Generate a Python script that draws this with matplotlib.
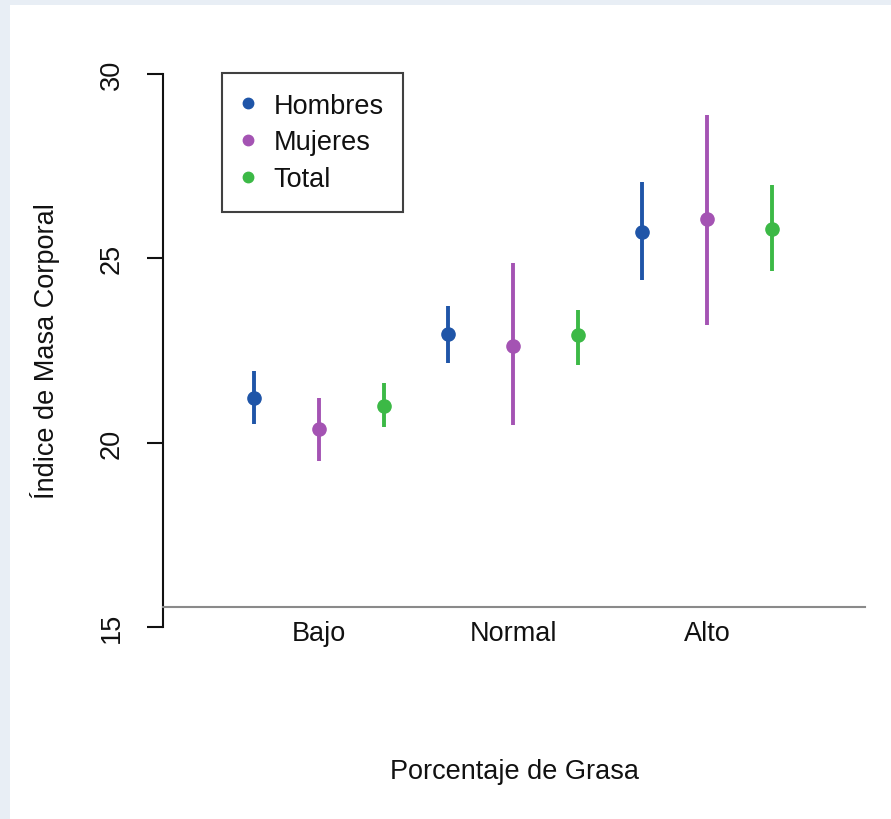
import matplotlib
matplotlib.use("Agg")
import matplotlib.pyplot as plt
from matplotlib.patches import Rectangle
from matplotlib.lines import Line2D

plt.rcParams['font.family'] = ['Liberation Sans', 'DejaVu Sans']

categories = ["Bajo", "Normal", "Alto"]
series = ["Hombres", "Mujeres", "Total"]
colors = ["#1f55a8", "#a453b3", "#3cb946"]

hombres_mean = [21.2, 22.95, 25.72]
hombres_lo = [20.5, 22.15, 24.42]
hombres_hi = [21.95, 23.72, 27.07]

mujeres_mean = [20.37, 22.63, 26.07]
mujeres_lo = [19.5, 20.47, 23.2]
mujeres_hi = [21.2, 24.87, 28.9]

total_mean = [21.0, 22.92, 25.8]
total_lo = [20.42, 22.12, 24.66]
total_hi = [21.62, 23.6, 26.98]

yticks = [15, 20, 25, 30]

means = [hombres_mean, mujeres_mean, total_mean]
los = [hombres_lo, mujeres_lo, total_lo]
his = [hombres_hi, mujeres_hi, total_hi]

W, H = 891, 820
fig = plt.figure(figsize=(W / 100, H / 100), dpi=100)
fig.patch.set_facecolor("#e8eef5")
bg = Rectangle((10 / W, 0), 1 - 10 / W, 1 - 6 / H, transform=fig.transFigure,
               facecolor="white", edgecolor="none", zorder=-10)
fig.add_artist(bg)

ax = fig.add_axes([163 / W, 1 - 628 / H, (865 - 163) / W, (628 - 75) / H])
ax.set_zorder(1)
ax.set_facecolor("none")

offsets = [-1 / 3, 0, 1 / 3]
for s in range(3):
    xs = [i + offsets[s] for i in range(3)]
    m = means[s]
    yerr = [[m[i] - los[s][i] for i in range(3)], [his[s][i] - m[i] for i in range(3)]]
    ax.errorbar(xs, m, yerr=yerr, fmt='o', color=colors[s], ms=9.5, elinewidth=2.8,
                capsize=0, zorder=3)

ax.set_xlim(-0.804, 2.814)
ax.set_ylim(15, 30)

for side in ["top", "right"]:
    ax.spines[side].set_visible(False)
ax.spines["left"].set_linewidth(1.5)
ax.spines["left"].set_color("#111111")
ax.spines["bottom"].set_position(("data", 15.54))
ax.spines["bottom"].set_color("#8a8a8a")
ax.spines["bottom"].set_linewidth(1.5)

ax.set_yticks(yticks)
ax.set_yticklabels([str(t) for t in yticks], rotation=90, va="center")
ax.tick_params(axis="y", length=11.5, width=1.5, pad=16, labelsize=19.5, colors="#111111")
ax.set_xticks(range(3))
ax.set_xticklabels(categories)
ax.tick_params(axis="x", length=0, pad=9, labelsize=19.5, colors="#111111")

ax.text(-0.168, 0.5, "Índice de Masa Corporal", rotation=90, transform=ax.transAxes,
        ha="center", va="center", fontsize=19.5, color="#111111")
fig.text(514 / W, 1 - 772 / H, "Porcentaje de Grasa", ha="center", va="center",
         fontsize=19.5, color="#111111")

handles = [Line2D([], [], marker='o', linestyle='none', color=c, markersize=7.5) for c in colors]
leg = ax.legend(handles, series, loc="upper left", bbox_to_anchor=((222 - 163) / 702, (628 - 74) / 553),
                borderaxespad=0, frameon=True, fancybox=False, fontsize=19.5,
                handletextpad=0.73, labelspacing=0.40, borderpad=0.72, handlelength=0.45)
leg.get_frame().set_edgecolor("#111111")
leg.get_frame().set_linewidth(1.5)
for t in leg.get_texts():
    t.set_color("#111111")

fig.savefig("out.png", dpi=100, facecolor=fig.get_facecolor())
